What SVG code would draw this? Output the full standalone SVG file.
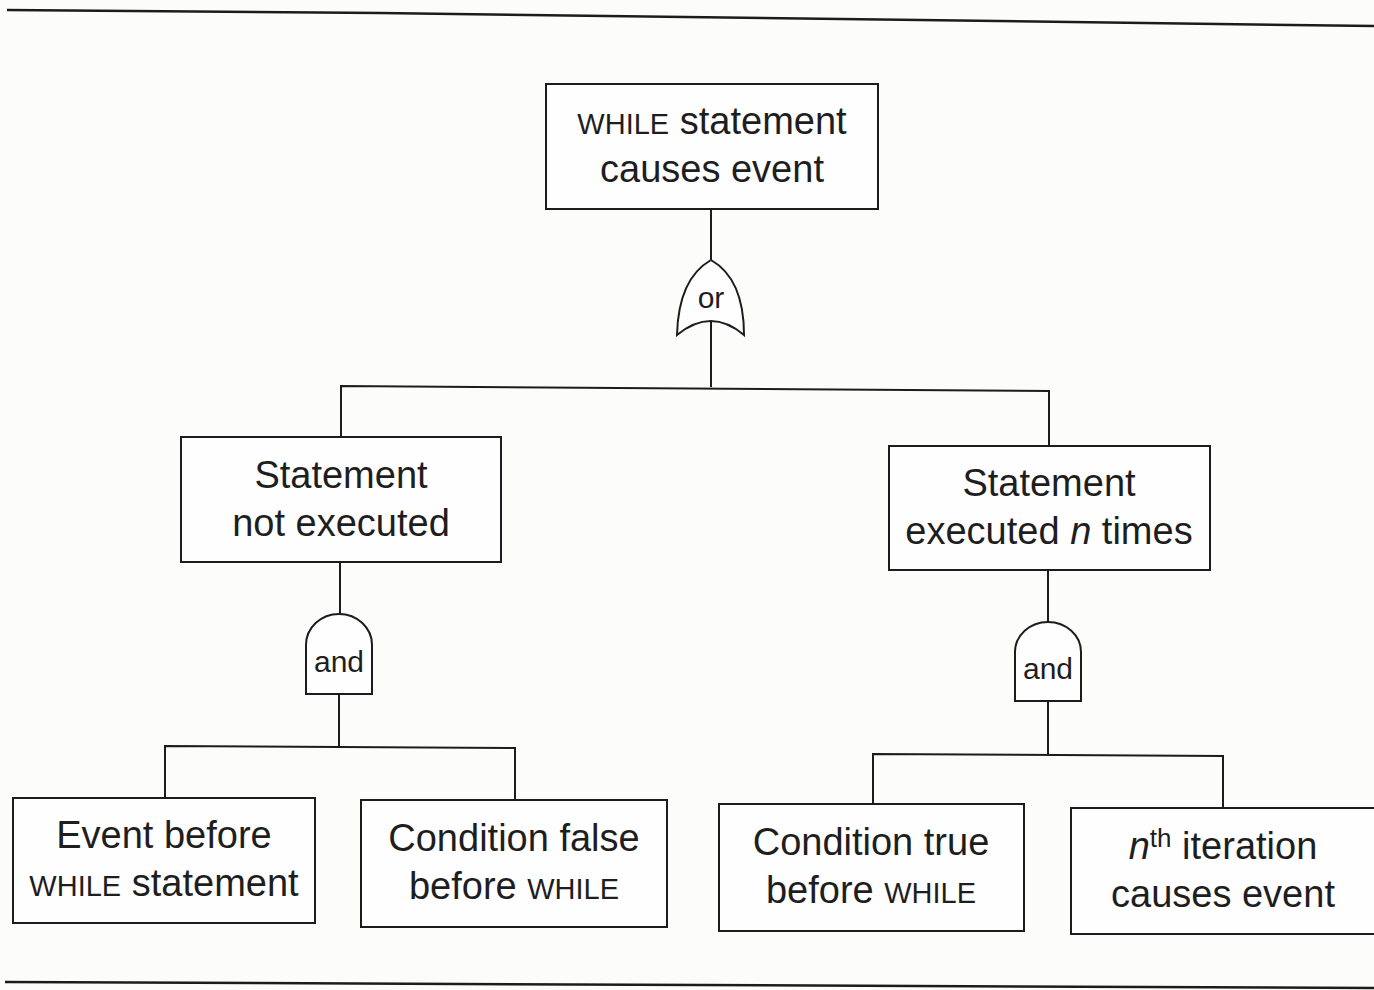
<svg xmlns="http://www.w3.org/2000/svg" width="1374" height="990" viewBox="0 0 1374 990">
<style>
.bg{fill:#fcfcfb}
.box{fill:#fefefe;stroke:#1c1c1c;stroke-width:2}
.gate{fill:#fefefe;stroke:#1c1c1c;stroke-width:2}
.ln{fill:none;stroke:#1c1c1c;stroke-width:2}
.rule{fill:none;stroke:#1c1c1c;stroke-width:2.5}
text{font-family:"Liberation Sans",Arial,sans-serif;fill:#1e1e1e;text-anchor:middle}
.t{font-size:38px}
.g{font-size:30px}
.sc{font-size:29px}
.it{font-style:italic}
</style>
<rect class="bg" x="0" y="0" width="1374" height="990"/>
<path class="rule" d="M7,10 L380,13 L1374,26"/>
<path class="rule" d="M5,982 L1374,988"/>

<g id="connectors">
<path class="ln" d="M711,209 L711,260"/>
<path class="ln" d="M711,322 L711,387"/>
<path class="ln" d="M341,437 L341,386 L1049,391 L1049,446"/>
<path class="ln" d="M340,562 L340,614"/>
<path class="ln" d="M339,694 L339,746"/>
<path class="ln" d="M165,798 L165,746 L515,748 L515,801"/>
<path class="ln" d="M1048,570 L1048,622"/>
<path class="ln" d="M1048,701 L1048,754"/>
<path class="ln" d="M873,804 L873,754 L1223,756 L1223,808"/>
</g>

<g id="top">
<rect class="box" x="546" y="84" width="332" height="125"/>
<text class="t" x="712" y="134"><tspan class="sc">WHILE</tspan> statement</text>
<text class="t" x="712" y="182">causes event</text>
</g>

<g id="or-gate">
<path class="gate" d="M711,260 C690,272 678,295 677,335 Q711,307 744,335 C744,295 732,272 711,260 Z"/>
<text class="g" x="711" y="308">or</text>
</g>

<g id="not-executed">
<rect class="box" x="181" y="437" width="320" height="125"/>
<text class="t" x="341" y="488">Statement</text>
<text class="t" x="341" y="536">not executed</text>
</g>

<g id="executed-n">
<rect class="box" x="889" y="446" width="321" height="124"/>
<text class="t" x="1049" y="496">Statement</text>
<text class="t" x="1049" y="544">executed <tspan class="it">n</tspan> times</text>
</g>

<g id="and-left">
<path class="gate" d="M306,694 L306,645 A33,31 0 0 1 372,645 L372,694 Z"/>
<text class="g" x="339" y="672">and</text>
</g>

<g id="and-right">
<path class="gate" d="M1015,701 L1015,652 A33,30 0 0 1 1081,652 L1081,701 Z"/>
<text class="g" x="1048" y="679">and</text>
</g>

<g id="event-before">
<rect class="box" x="13" y="798" width="302" height="125"/>
<text class="t" x="164" y="848">Event before</text>
<text class="t" x="164" y="896"><tspan class="sc">WHILE</tspan> statement</text>
</g>

<g id="cond-false">
<rect class="box" x="361" y="800" width="306" height="127"/>
<text class="t" x="514" y="851">Condition false</text>
<text class="t" x="514" y="899">before <tspan class="sc">WHILE</tspan></text>
</g>

<g id="cond-true">
<rect class="box" x="719" y="804" width="305" height="127"/>
<text class="t" x="871" y="855">Condition true</text>
<text class="t" x="871" y="903">before <tspan class="sc">WHILE</tspan></text>
</g>

<g id="nth-iteration">
<rect class="box" x="1071" y="808" width="310" height="126"/>
<text class="t" x="1223" y="859"><tspan class="it">n</tspan><tspan font-size="26" dy="-12">th</tspan><tspan dy="12"> iteration</tspan></text>
<text class="t" x="1223" y="907">causes event</text>
</g>
</svg>
